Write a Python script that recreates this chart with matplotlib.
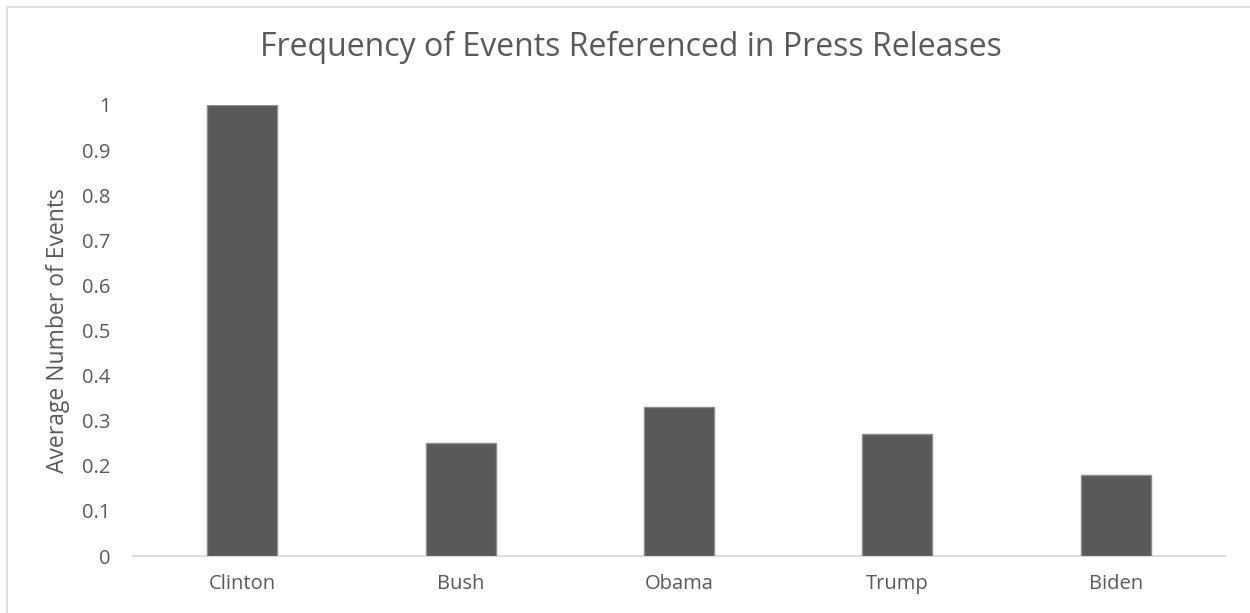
import matplotlib
matplotlib.use("Agg")
import matplotlib.pyplot as plt
from matplotlib.lines import Line2D

categories = ["Clinton", "Bush", "Obama", "Trump", "Biden"]
values = [1.0, 0.25, 0.33, 0.27, 0.18]
yticks = [0, 0.1, 0.2, 0.3, 0.4, 0.5, 0.6, 0.7, 0.8, 0.9, 1]
ytick_labels = ["0", "0.1", "0.2", "0.3", "0.4", "0.5", "0.6", "0.7", "0.8", "0.9", "1"]

plt.rcParams['font.family'] = ['Open Sans', 'DejaVu Sans']
W, H = 1250, 613
fig = plt.figure(figsize=(W / 100, H / 100), dpi=100)
ax = fig.add_axes([133 / W, 1 - 556 / H, (1225 - 133) / W, (556 - 105) / H])

x = list(range(len(categories)))
ax.bar(x, values, width=0.32, color="#595959", edgecolor="#8c8c8c", linewidth=1.0, zorder=3)
ax.set_xlim(-0.5, len(categories) - 0.5)
ax.set_ylim(0, 1)
ax.set_xticks(x)
ax.set_xticklabels(categories, fontsize=14.5, color="#595959")
ax.set_yticks(yticks)
ax.set_yticklabels(ytick_labels, fontsize=14.5, color="#595959")
ax.tick_params(axis='both', length=0)
ax.tick_params(axis='x', pad=13)
ax.tick_params(axis='y', pad=16)
for s in ["top", "right", "left"]:
    ax.spines[s].set_visible(False)
ax.spines["bottom"].set_color("#d9d9d9")
ax.spines["bottom"].set_linewidth(1.3)
ax.set_ylabel("Average Number of Events", fontsize=16.5, color="#595959", labelpad=9)
fig.text(631 / W, 1 - 47 / H, "Frequency of Events Referenced in Press Releases",
         ha="center", va="center", fontsize=23, color="#595959")

# chart border (top and left visible)
fig.add_artist(Line2D([6.5 / W, 6.5 / W], [0, 1 - 7 / H], color="#d9d9d9", lw=1.2, transform=fig.transFigure))
fig.add_artist(Line2D([6.5 / W, 1], [1 - 7 / H, 1 - 7 / H], color="#d9d9d9", lw=1.2, transform=fig.transFigure))

fig.savefig("out.png", dpi=100)
